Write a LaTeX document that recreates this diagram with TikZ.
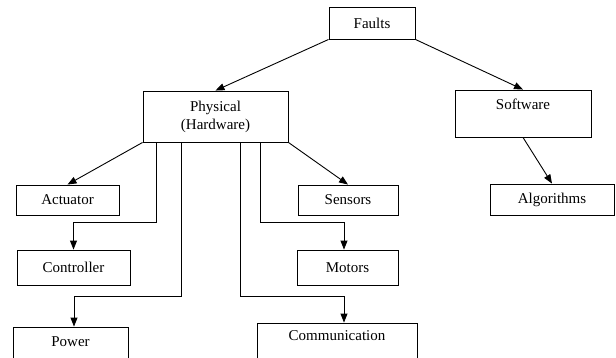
\documentclass[tikz,border=0pt]{standalone}
\usepackage{fontspec}
\setmainfont{Liberation Serif}
\usetikzlibrary{arrows.meta,calc}
\begin{document}
\begin{tikzpicture}[x=1pt,y=-1pt,
  box/.style={draw, line width=0.9pt, inner sep=0pt, align=center, font=\fontsize{15}{18}\selectfont},
  lbl/.style={inner sep=0pt, align=center, font=\fontsize{15}{18}\selectfont},
  arr/.style={draw, line width=0.9pt, -{Triangle[length=9pt,width=7pt]}}]
\useasboundingbox (0,0) rectangle (616,357);
\clip (0,0) rectangle (616,357);
% boxes
\node[box, minimum width=86pt, minimum height=32pt] (faults) at (372,23) {Faults};
\node[box, minimum width=145pt, minimum height=51pt] (phys) at (215.5,116.5) {Physical\\(Hardware)};
\node[box, minimum width=136pt, minimum height=47pt] (soft) at (523,113.5) {};
\node[lbl] (softt) at (523,104) {Software};
\node[box, minimum width=103pt, minimum height=30pt] (act) at (67.5,200) {Actuator};
\node[box, minimum width=113pt, minimum height=35pt] (ctrl) at (73.5,267.5) {Controller};
\node[box, minimum width=115pt, minimum height=54pt] (pow) at (70.5,354) {};
\node[lbl] (powt) at (70.5,342) {Power};
\node[box, minimum width=100pt, minimum height=30pt] (sens) at (348,200) {Sensors};
\node[box, minimum width=101pt, minimum height=35pt] (mot) at (347.5,267.5) {Motors};
\node[box, minimum width=160pt, minimum height=57pt] (comm) at (337,351.5) {};
\node[lbl] (commt) at (337,336) {Communication};
\node[box, minimum width=124pt, minimum height=31pt] (alg) at (552,199.5) {Algorithms};
% connectors
\draw[arr] (faults.south west) -- (phys.north);
\draw[arr] (faults.south east) -- (soft.north);
\draw[arr] (soft.south) -- (alg.north);
\draw[arr] (phys.south west) -- (act.north);
\draw[arr] (phys.south east) -- (sens.north);
\coordinate (c1) at (156,222);
\coordinate (c2) at (181,296);
\coordinate (c3) at (260,222);
\coordinate (c4) at (240,296);
\draw[arr] (c1 |- phys.south) -- (c1) -| (ctrl.north);
\draw[arr] (c2 |- phys.south) -- (c2) -| ([xshift=3.5pt]pow.north);
\draw[arr] (c3 |- phys.south) -- (c3) -| ([xshift=-3.5pt]mot.north);
\draw[arr] (c4 |- phys.south) -- (c4) -| ([xshift=7pt]comm.north);
\end{tikzpicture}
\end{document}
